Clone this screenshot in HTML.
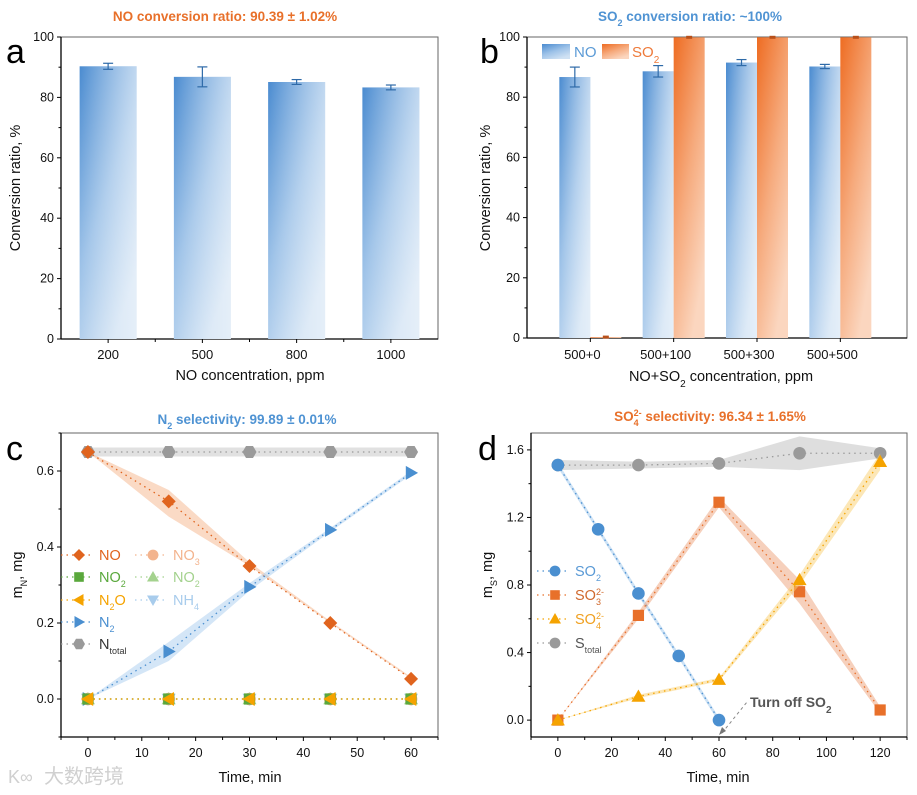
<!DOCTYPE html>
<html><head><meta charset="utf-8">
<style>
html,body{margin:0;padding:0;background:#fff;}
svg{display:block;font-family:"Liberation Sans","Noto Sans CJK SC",sans-serif;}
</style></head>
<body>
<svg id="fig" width="917" height="795" viewBox="0 0 917 795" xmlns="http://www.w3.org/2000/svg">
<defs>
<linearGradient id="gBlue" x1="0" y1="0" x2="0.6" y2="1">
<stop offset="0" stop-color="#4a8bd0"/><stop offset="0.55" stop-color="#9dc2e8"/><stop offset="1" stop-color="#cfe1f3"/></linearGradient>
<linearGradient id="gBlueH" x1="0" y1="0" x2="1" y2="0">
<stop offset="0" stop-color="#ffffff" stop-opacity="0"/><stop offset="1" stop-color="#ffffff" stop-opacity="0.45"/></linearGradient>
<linearGradient id="gOr" x1="0" y1="0" x2="0.6" y2="1">
<stop offset="0" stop-color="#ee6c22"/><stop offset="0.55" stop-color="#f6ab7e"/><stop offset="1" stop-color="#fbd6bf"/></linearGradient>
</defs>
<g id="root"></g>
</svg>
<script>
// ---------- data ----------
const catsA = ["200","500","800","1000"];
const valsA = [90.3, 86.8, 85.1, 83.3];
const errA = [1.0, 3.3, 0.8, 0.8];
const catsB = ["500+0","500+100","500+300","500+500"];
const noB = [86.7, 88.6, 91.5, 90.2];
const noErrB = [3.3, 1.9, 1.0, 0.7];
const so2B = [0.3, 99.9, 99.9, 99.9];
const yTicksAB = [0,20,40,60,80,100];
const timeC = [0,15,30,45,60];
const cNO = [0.65,0.52,0.35,0.20,0.053];
const cNOlo = [0.65,0.48,0.35,0.20,0.053];
const cNOhi = [0.65,0.55,0.36,0.205,0.058];
const cN2 = [0,0.125,0.295,0.445,0.595];
const cN2lo = [0,0.10,0.285,0.44,0.59];
const cN2hi = [0,0.15,0.305,0.45,0.60];
const cNtot = [0.65,0.65,0.65,0.65,0.65];
const cZero = [0,0,0,0,0];
const xTicksC = [0,10,20,30,40,50,60];
const yTicksC = [0.0,0.2,0.4,0.6];
const timeSO2 = [0,15,30,45,60];
const dSO2 = [1.51,1.13,0.75,0.38,0.0];
const timeD = [0,30,60,90,120];
const dSO3 = [0,0.62,1.29,0.76,0.06];
const dSO3w = [0,0.02,0.03,0.07,0.02];
const dSO4 = [0,0.14,0.24,0.83,1.53];
const dSO4w = [0,0.01,0.01,0.03,0.05];
const dStot = [1.51,1.51,1.52,1.58,1.58];
const dStotw = [0.03,0.02,0.02,0.10,0.03];
const xTicksD = [0,20,40,60,80,100,120];
const yTicksD = [0.0,0.4,0.8,1.2,1.6];

const NS="http://www.w3.org/2000/svg";
const root=document.getElementById('root');
function mk(tag,attrs,parent){const e=document.createElementNS(NS,tag);for(const k in attrs)e.setAttribute(k,attrs[k]);(parent||root).appendChild(e);return e;}
function txt(s,attrs,parent){const e=mk('text',attrs,parent);e.textContent=s;return e;}
function lin(d0,d1,r0,r1){return v=>r0+(v-d0)*(r1-r0)/(d1-d0);}

function frame(L,R,T,B,name){
  const g=mk('g',{});
  
  
  mk('rect',{x:L,y:T,width:R-L,height:B-T,fill:'none',stroke:'#666','stroke-width':1},g);
  mk('line',{x1:L,y1:T,x2:L,y2:B,stroke:'#000','stroke-width':1.3},g);
  mk('line',{x1:L,y1:B,x2:R,y2:B,stroke:'#000','stroke-width':1.3},g);
  return g;
}
function yAxis(g,L,ticks,ys,fmt,minor){
  ticks.forEach(t=>{const y=ys(t);mk('line',{x1:L-4,y1:y,x2:L,y2:y,stroke:'#000'},g);
    const l=txt(fmt(t),{x:L-7,y:y+4,'font-size':12.5,'text-anchor':'end',fill:'#111'},g);
    
    });
  minor.forEach(t=>{const y=ys(t);mk('line',{x1:L-2.5,y1:y,x2:L,y2:y,stroke:'#000'},g);});
}
function yTitle(g,x,y,content){const t=mk('text',{x:x,y:y,'font-size':14.5,'text-anchor':'middle',fill:'#111',transform:`rotate(-90 ${x} ${y})`},g);t.innerHTML=content;
  
  }
function xTitle(g,x,y,content){const t=mk('text',{x:x,y:y,'font-size':14.5,'text-anchor':'middle',fill:'#111'},g);t.innerHTML=content;
  
  }
function title(x,y,content,col,name){const t=mk('text',{x:x,y:y,'font-size':13.5,'font-weight':'bold','text-anchor':'middle',fill:col});t.innerHTML=content;
  
  }
function plabel(s,x,y){const t=txt(s,{x:x,y:y,'font-size':34,fill:'#000'});
  
  }
function errbar(g,x,y1,y2,col){mk('line',{x1:x,y1:y1,x2:x,y2:y2,stroke:col,'stroke-width':1.2},g);
  mk('line',{x1:x-5,y1:y1,x2:x+5,y2:y1,stroke:col,'stroke-width':1.2},g);
  mk('line',{x1:x-5,y1:y2,x2:x+5,y2:y2,stroke:col,'stroke-width':1.2},g);}
function bar(g,x,w,y0,y1,grad,name){const r=mk('rect',{x:x,y:y1,width:w,height:y0-y1,fill:`url(#${grad})`},g);
  
  
  mk('rect',{x:x,y:y1,width:w,height:y0-y1,fill:'url(#gBlueH)'},g);}

// ---------- Panel a ----------
title(225,21,'NO conversion ratio: 90.39 ± 1.02%','#e8702a','title-a');
plabel('a',6,63);
{
 const L=61,R=438,T=37,B=339;
 const xs=lin(0.5,4.5,L,R), ys=lin(0,100,B,T);
 const g=frame(L,R,T,B,'panel-a-axes');
 catsA.forEach((c,i)=>{const cx=xs(i+1),w=57;
   bar(g,cx-w/2,w,ys(0),ys(valsA[i]),'gBlue','bar-a-'+c);
   errbar(g,cx,ys(valsA[i]+errA[i]),ys(valsA[i]-errA[i]),'#2e6aa8');
   mk('line',{x1:cx,y1:B,x2:cx,y2:B+4,stroke:'#000'},g);
   const l=txt(c,{x:cx,y:B+20,'font-size':13,'text-anchor':'middle',fill:'#111'},g);
   
   
   if(i<3){const mx=xs(i+1.5);mk('line',{x1:mx,y1:B,x2:mx,y2:B+3,stroke:'#000'},g);}
 });
 yAxis(g,L,yTicksAB,ys,t=>String(t),[10,30,50,70,90]);
 yTitle(g,20,188,'Conversion ratio, %');
 xTitle(g,250,380,'NO concentration, ppm');
}
// ---------- Panel b ----------
title(690,21,'SO<tspan baseline-shift="sub" font-size="9">2</tspan> conversion ratio: ~100%','#4f93d3','title-b');
plabel('b',480,63);
{
 const L=527,R=907,T=37,B=338;
 const xs=lin(0.24,4.8,L,R), ys=lin(0,100,B,T);
 const g=frame(L,R,T,B,'panel-b-axes');
 catsB.forEach((c,i)=>{const cx=xs(i+1),w=31;
   bar(g,cx-w,w,ys(0),ys(noB[i]),'gBlue','bar-b-no-'+c);
   errbar(g,cx-w/2,ys(noB[i]+noErrB[i]),ys(noB[i]-noErrB[i]),'#2e6aa8');
   const r=mk('rect',{x:cx,y:ys(so2B[i]),width:w,height:ys(0)-ys(so2B[i]),fill:'url(#gOr)'},g);
   
   
   mk('rect',{x:cx+w/2-3,y:ys(so2B[i])-1.5,width:6,height:3,fill:'#b8501a'},g);
   mk('line',{x1:cx,y1:B,x2:cx,y2:B+4,stroke:'#000'},g);
   const l=txt(c,{x:cx-8,y:B+21,'font-size':13,'text-anchor':'middle',fill:'#111'},g);
   
   
 });
 yAxis(g,L,yTicksAB,ys,t=>String(t),[10,30,50,70,90]);
 yTitle(g,490,188,'Conversion ratio, %');
 xTitle(g,721,381,'NO+SO<tspan baseline-shift="sub" font-size="10">2</tspan> concentration, ppm');
 const lg=mk('g',{});
 
 
 mk('rect',{x:542,y:44,width:28,height:15,fill:'url(#gBlue)'},lg);
 txt('NO',{x:574,y:57,'font-size':15,fill:'#5a9ad6'},lg);
 mk('rect',{x:602,y:44,width:27,height:15,fill:'url(#gOr)'},lg);
 const s=mk('text',{x:632,y:57,'font-size':15,fill:'#ee7a3a'},lg);s.innerHTML='SO<tspan baseline-shift="sub" font-size="10">2</tspan>';
}
// ---------- markers ----------
function marker(g,type,x,y,col,s){s=s||7;
  if(type==='diamond')return mk('polygon',{points:`${x},${y-s} ${x+s},${y} ${x},${y+s} ${x-s},${y}`,fill:col},g);
  if(type==='square')return mk('rect',{x:x-s*0.8,y:y-s*0.8,width:s*1.6,height:s*1.6,fill:col},g);
  if(type==='circle')return mk('circle',{cx:x,cy:y,r:s*0.9,fill:col},g);
  if(type==='hex')return mk('polygon',{points:[0,1,2,3,4,5].map(k=>{const a=Math.PI/3*k;return (x+s*Math.cos(a))+','+(y+s*Math.sin(a));}).join(' '),fill:col},g);
  if(type==='tri')return mk('polygon',{points:`${x},${y-s} ${x+s},${y+s*0.75} ${x-s},${y+s*0.75}`,fill:col},g);
  if(type==='tridown')return mk('polygon',{points:`${x},${y+s} ${x+s},${y-s*0.75} ${x-s},${y-s*0.75}`,fill:col},g);
  if(type==='left')return mk('polygon',{points:`${x-s},${y} ${x+s*0.75},${y-s} ${x+s*0.75},${y+s}`,fill:col},g);
  if(type==='right')return mk('polygon',{points:`${x+s},${y} ${x-s*0.75},${y-s} ${x-s*0.75},${y+s}`,fill:col},g);
}
function series(name,xsArr,ysArr,xs,ys,col,type,lo,hi,bandCol){
  const g=mk('g',{});
  
  
  if(lo){const up=xsArr.map((t,i)=>xs(t)+','+ys(hi[i]));const dn=xsArr.map((t,i)=>xs(t)+','+ys(lo[i])).reverse();
    mk('polygon',{points:up.concat(dn).join(' '),fill:bandCol,opacity:0.5},g);}
  mk('polyline',{points:xsArr.map((t,i)=>xs(t)+','+ys(ysArr[i])).join(' '),fill:'none',stroke:col,'stroke-width':1.3,'stroke-dasharray':'1.5 4'},g);
  xsArr.forEach((t,i)=>marker(g,type,xs(t),ys(ysArr[i]),col));
  return g;
}
function xAxisTicks(g,B,ticks,xs,minor){
  ticks.forEach(t=>{const x=xs(t);mk('line',{x1:x,y1:B,x2:x,y2:B+4,stroke:'#000'},g);
   const l=txt(String(t),{x:x,y:B+20,'font-size':12.5,'text-anchor':'middle',fill:'#111'},g);
   
   });
  minor.forEach(t=>{const x=xs(t);mk('line',{x1:x,y1:B,x2:x,y2:B+3,stroke:'#000'},g);});
}
function legRow(g,x,y,type,col,label,tcol){
  mk('line',{x1:x-18,y1:y,x2:x+14,y2:y,stroke:col,'stroke-width':1.3,'stroke-dasharray':'1.5 4'},g);
  marker(g,type,x,y,col,6);
  const t=mk('text',{x:x+20,y:y+5,'font-size':14.5,fill:tcol||col},g);t.innerHTML=label;
}
// ---------- Panel c ----------
title(247,424,'N<tspan baseline-shift="sub" font-size="9">2</tspan> selectivity: 99.89 ± 0.01%','#4f93d3','title-c');
plabel('c',6,460);
{
 const L=61,R=438,T=433,B=737;
 const xs=lin(-5,65,L,R), ys=lin(-0.1,0.7,B,T);
 const g=frame(L,R,T,B,'panel-c-axes');
 xAxisTicks(g,B,xTicksC,xs,[-5,5,15,25,35,45,55,65]);
 yAxis(g,L,yTicksC,ys,t=>t.toFixed(1),[-0.1,0.1,0.3,0.5,0.7]);
 series('series-ntotal',timeC,cNtot,xs,ys,'#9a9a9a','hex',cNtot.map(v=>v-0.012),cNtot.map(v=>v+0.012),'#c4c4c4');
 series('series-no',timeC,cNO,xs,ys,'#e0641e','diamond',cNOlo,cNOhi,'#f6b58c');
 series('series-n2',timeC,cN2,xs,ys,'#4a8fd0','right',cN2lo,cN2hi,'#a9cdef');
 series('series-nh4',timeC,cZero,xs,ys,'#a8ccec','tridown');
 series('series-no2-b',timeC,cZero,xs,ys,'#a4d28e','tri');
 series('series-no3',timeC,cZero,xs,ys,'#f3b48e','circle');
 series('series-no2',timeC,cZero,xs,ys,'#5aa83c','square');
 series('series-n2o',timeC,cZero,xs,ys,'#f5a300','left');
 yTitle(g,22,575,'m<tspan baseline-shift="sub" font-size="9">N</tspan>, mg');
 xTitle(g,250,782,'Time, min');
 const lg=mk('g',{});
 
 
 legRow(lg,79,555,'diamond','#e0641e','NO');
 legRow(lg,79,577,'square','#5aa83c','NO<tspan baseline-shift="sub" font-size="9">2</tspan>');
 legRow(lg,79,600,'left','#f5a300','N<tspan baseline-shift="sub" font-size="9">2</tspan>O');
 legRow(lg,79,622,'right','#4a8fd0','N<tspan baseline-shift="sub" font-size="9">2</tspan>');
 legRow(lg,79,644,'hex','#9a9a9a','N<tspan baseline-shift="sub" font-size="9">total</tspan>','#333');
 legRow(lg,153,555,'circle','#f3b48e','NO<tspan baseline-shift="sub" font-size="9">3</tspan>');
 legRow(lg,153,577,'tri','#a4d28e','NO<tspan baseline-shift="sub" font-size="9">2</tspan>');
 legRow(lg,153,600,'tridown','#a8ccec','NH<tspan baseline-shift="sub" font-size="9">4</tspan>');
}
// ---------- Panel d ----------
title(710,421,'SO<tspan baseline-shift="sub" font-size="9">4</tspan><tspan baseline-shift="super" font-size="9" dx="-5">2-</tspan> selectivity: 96.34 ± 1.65%','#e8702a','title-d');
plabel('d',478,460);
{
 const L=531,R=907,T=433,B=737;
 const xs=lin(-10,130,L,R), ys=lin(-0.1,1.7,B,T);
 const g=frame(L,R,T,B,'panel-d-axes');
 xAxisTicks(g,B,xTicksD,xs,[-10,10,30,50,70,90,110,130]);
 yAxis(g,L,yTicksD,ys,t=>t.toFixed(1),[0.2,0.6,1.0,1.4]);
 series('series-stotal',timeD,dStot,xs,ys,'#9a9a9a','circle',dStot.map((v,i)=>v-dStotw[i]),dStot.map((v,i)=>v+dStotw[i]),'#bdbdbd');
 series('series-so2',timeSO2,dSO2,xs,ys,'#4a8fd0','circle',dSO2.map(v=>v-0.015),dSO2.map(v=>v+0.015),'#9cc6ec');
 series('series-so3',timeD,dSO3,xs,ys,'#e8702a','square',dSO3.map((v,i)=>v-dSO3w[i]),dSO3.map((v,i)=>v+dSO3w[i]),'#eea27a');
 series('series-so4',timeD,dSO4,xs,ys,'#f5a300','tri',dSO4.map((v,i)=>v-dSO4w[i]),dSO4.map((v,i)=>v+dSO4w[i]),'#f9cf70');
 yTitle(g,492,575,'m<tspan baseline-shift="sub" font-size="9">S</tspan>, mg');
 xTitle(g,718,782,'Time, min');
 const an=mk('g',{});
 
 
 mk('line',{x1:xs(60)+3,y1:B-4,x2:747,y2:702,stroke:'#888','stroke-width':1,'stroke-dasharray':'3 3'},an);
 mk('polygon',{points:`${xs(60)},${B-2} ${xs(60)+7},${B-6} ${xs(60)+3},${B-10}`,fill:'#777'},an);
 const at=mk('text',{x:750,y:707,'font-size':14,'font-weight':'bold',fill:'#555'},an);at.innerHTML='Turn off SO<tspan baseline-shift="sub" font-size="10">2</tspan>';
 const lg=mk('g',{});
 
 
 legRow(lg,555,571,'circle','#4a8fd0','SO<tspan baseline-shift="sub" font-size="9">2</tspan>','#5a9ad6');
 legRow(lg,555,595,'square','#e8702a','SO<tspan baseline-shift="sub" font-size="9">3</tspan><tspan baseline-shift="super" font-size="9" dx="-5">2-</tspan>','#d0692e');
 legRow(lg,555,619,'tri','#f5a300','SO<tspan baseline-shift="sub" font-size="9">4</tspan><tspan baseline-shift="super" font-size="9" dx="-5">2-</tspan>','#f0a020');
 legRow(lg,555,643,'circle','#9a9a9a','S<tspan baseline-shift="sub" font-size="9">total</tspan>','#555');
}
// watermark
const wm=txt('大数跨境',{x:44,y:783,'font-size':20,fill:'#d0d0d0'});


const wm2=txt('K∞',{x:8,y:783,'font-size':18,fill:'#d0d0d0'});


</script>
</body></html>
